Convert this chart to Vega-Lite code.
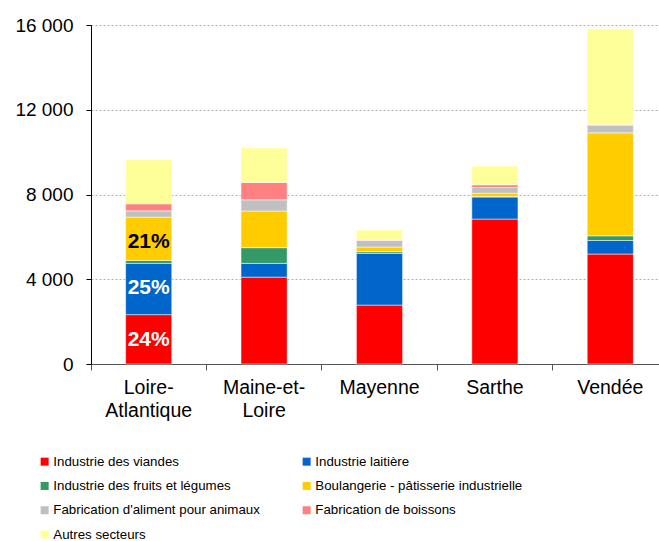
{
  "$schema": "https://vega.github.io/schema/vega-lite/v6.json",
  "autosize": "none",
  "width": 568,
  "height": 339,
  "padding": {"left": 91, "top": 25, "right": 0, "bottom": 177},
  "data": {
    "values": [
      {"dept": "Loire-Atlantique", "secteur": "Industrie des viandes", "valeur": 2330, "label": "24%"},
      {"dept": "Loire-Atlantique", "secteur": "Industrie laitière", "valeur": 2420, "label": "25%"},
      {"dept": "Loire-Atlantique", "secteur": "Industrie des fruits et légumes", "valeur": 140, "label": ""},
      {"dept": "Loire-Atlantique", "secteur": "Boulangerie - pâtisserie industrielle", "valeur": 2040, "label": "21%"},
      {"dept": "Loire-Atlantique", "secteur": "Fabrication d'aliment pour animaux", "valeur": 300, "label": ""},
      {"dept": "Loire-Atlantique", "secteur": "Fabrication de boissons", "valeur": 330, "label": ""},
      {"dept": "Loire-Atlantique", "secteur": "Autres secteurs", "valeur": 2080, "label": ""},
      {"dept": "Maine-et-Loire", "secteur": "Industrie des viandes", "valeur": 4100, "label": ""},
      {"dept": "Maine-et-Loire", "secteur": "Industrie laitière", "valeur": 650, "label": ""},
      {"dept": "Maine-et-Loire", "secteur": "Industrie des fruits et légumes", "valeur": 740, "label": ""},
      {"dept": "Maine-et-Loire", "secteur": "Boulangerie - pâtisserie industrielle", "valeur": 1730, "label": ""},
      {"dept": "Maine-et-Loire", "secteur": "Fabrication d'aliment pour animaux", "valeur": 530, "label": ""},
      {"dept": "Maine-et-Loire", "secteur": "Fabrication de boissons", "valeur": 820, "label": ""},
      {"dept": "Maine-et-Loire", "secteur": "Autres secteurs", "valeur": 1630, "label": ""},
      {"dept": "Mayenne", "secteur": "Industrie des viandes", "valeur": 2780, "label": ""},
      {"dept": "Mayenne", "secteur": "Industrie laitière", "valeur": 2440, "label": ""},
      {"dept": "Mayenne", "secteur": "Industrie des fruits et légumes", "valeur": 80, "label": ""},
      {"dept": "Mayenne", "secteur": "Boulangerie - pâtisserie industrielle", "valeur": 220, "label": ""},
      {"dept": "Mayenne", "secteur": "Fabrication d'aliment pour animaux", "valeur": 310, "label": ""},
      {"dept": "Mayenne", "secteur": "Fabrication de boissons", "valeur": 20, "label": ""},
      {"dept": "Mayenne", "secteur": "Autres secteurs", "valeur": 470, "label": ""},
      {"dept": "Sarthe", "secteur": "Industrie des viandes", "valeur": 6840, "label": ""},
      {"dept": "Sarthe", "secteur": "Industrie laitière", "valeur": 1040, "label": ""},
      {"dept": "Sarthe", "secteur": "Industrie des fruits et légumes", "valeur": 30, "label": ""},
      {"dept": "Sarthe", "secteur": "Boulangerie - pâtisserie industrielle", "valeur": 150, "label": ""},
      {"dept": "Sarthe", "secteur": "Fabrication d'aliment pour animaux", "valeur": 270, "label": ""},
      {"dept": "Sarthe", "secteur": "Fabrication de boissons", "valeur": 130, "label": ""},
      {"dept": "Sarthe", "secteur": "Autres secteurs", "valeur": 880, "label": ""},
      {"dept": "Vendée", "secteur": "Industrie des viandes", "valeur": 5190, "label": ""},
      {"dept": "Vendée", "secteur": "Industrie laitière", "valeur": 640, "label": ""},
      {"dept": "Vendée", "secteur": "Industrie des fruits et légumes", "valeur": 220, "label": ""},
      {"dept": "Vendée", "secteur": "Boulangerie - pâtisserie industrielle", "valeur": 4860, "label": ""},
      {"dept": "Vendée", "secteur": "Fabrication d'aliment pour animaux", "valeur": 350, "label": ""},
      {"dept": "Vendée", "secteur": "Fabrication de boissons", "valeur": 40, "label": ""},
      {"dept": "Vendée", "secteur": "Autres secteurs", "valeur": 4520, "label": ""}
    ]
  },
  "transform": [
    {"window": [{"op": "row_number", "as": "rang"}], "groupby": ["dept"]}
  ],
  "encoding": {
    "x": {
      "field": "dept",
      "type": "nominal",
      "sort": null,
      "scale": {"range": [0, 577], "paddingInner": 0, "paddingOuter": 0},
      "axis": {
        "title": null,
        "labelAngle": 0,
        "labelFontSize": 19.5,
        "labelColor": "black",
        "labelLineHeight": 23,
        "labelPadding": 8,
        "labelExpr": "datum.value == 'Loire-Atlantique' ? ['Loire-', 'Atlantique'] : datum.value == 'Maine-et-Loire' ? ['Maine-et-', 'Loire'] : datum.value",
        "bandPosition": 0,
        "tickSize": 6,
        "tickColor": "#555555",
        "domainColor": "#555555",
        "grid": false
      }
    },
    "y": {
      "field": "valeur",
      "type": "quantitative",
      "stack": "zero",
      "scale": {"domain": [0, 16000], "nice": false},
      "axis": {
        "title": null,
        "values": [0, 4000, 8000, 12000, 16000],
        "labelExpr": "replace(format(datum.value, ','), ',', ' ')",
        "labelFontSize": 19,
        "labelColor": "black",
        "labelPadding": 13,
        "tickSize": 5,
        "tickColor": "black",
        "domainColor": "black",
        "grid": true,
        "gridColor": "#b0b0b0",
        "gridDash": [2, 2],
        "gridWidth": 1
      }
    },
    "order": {"field": "rang", "type": "quantitative", "sort": "ascending"},
    "color": {
      "field": "secteur",
      "type": "nominal",
      "sort": ["Industrie des viandes", "Industrie laitière", "Industrie des fruits et légumes", "Boulangerie - pâtisserie industrielle", "Fabrication d'aliment pour animaux", "Fabrication de boissons", "Autres secteurs"],
      "scale": {
        "domain": ["Industrie des viandes", "Industrie laitière", "Industrie des fruits et légumes", "Boulangerie - pâtisserie industrielle", "Fabrication d'aliment pour animaux", "Fabrication de boissons", "Autres secteurs"],
        "range": ["#FF0000", "#0066CC", "#339966", "#FFCC00", "#C0C0C0", "#FF8080", "#FFFF99"]
      },
      "legend": {
        "title": null,
        "orient": "none",
        "legendX": -53,
        "legendY": 430,
        "direction": "horizontal",
        "columns": 2,
        "columnPadding": 40,
        "rowPadding": 10.3,
        "symbolType": "square",
        "symbolSize": 64,
        "symbolStrokeWidth": 0,
        "labelFont": "Liberation Sans",
        "labelFontSize": 13.3,
        "labelColor": "black",
        "labelOffset": 2,
        "labelLimit": 400
      }
    }
  },
  "layer": [
    {
      "mark": {"type": "bar", "width": {"band": 0.4}, "stroke": "white", "strokeWidth": 0.5}
    },
    {
      "mark": {"type": "text", "baseline": "middle", "align": "center", "dy": 25, "fontSize": 21, "fontWeight": "bold"},
      "encoding": {
        "text": {"field": "label"},
        "fill": {"condition": {"test": "datum.label == '21%'", "value": "black"}, "value": "white"}
      }
    }
  ],
  "config": {
    "font": "Liberation Sans",
    "view": {"stroke": null},
    "axis": {"labelFont": "Liberation Sans"}
  }
}
